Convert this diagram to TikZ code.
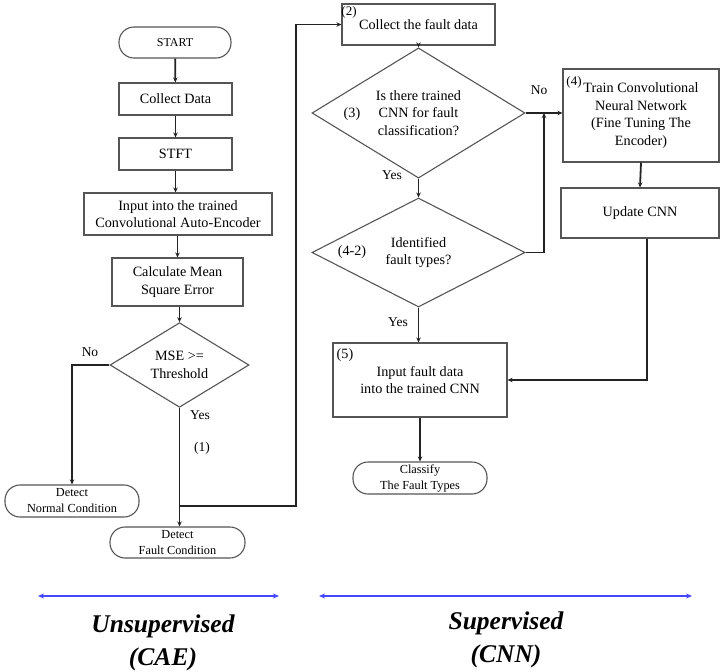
\documentclass[tikz,border=0pt]{standalone}
\usepackage{fontspec}
\setmainfont{Liberation Serif}
\usetikzlibrary{shapes.geometric,arrows.meta,calc}
\definecolor{boxgray}{RGB}{85,85,85}
\definecolor{linegray}{RGB}{35,35,35}
\definecolor{arrblue}{RGB}{70,70,250}
\newcommand\fsmain{\fontsize{14.2}{17.5}\selectfont}
\newcommand\fssmall{\fontsize{12.3}{16}\selectfont}
\newcommand\fslab{\fontsize{13.5}{16}\selectfont}
\newcommand\fsbig{\fontsize{25.5}{33}\selectfont\bfseries\itshape}
\begin{document}
\begin{tikzpicture}[x=1pt,y=-1pt,
  box/.style={draw=boxgray, line width=1.1pt, rectangle, inner sep=0pt, align=center, font=\fsmain},
  term/.style={draw=boxgray, line width=1.1pt, rectangle, rounded corners=15pt, inner sep=0pt, align=center, font=\fssmall},
  dec/.style={draw=boxgray, line width=1.1pt, diamond, inner sep=0pt, align=center, font=\fsmain},
  lab/.style={inner sep=0pt, font=\fslab},
  arr/.style={draw=linegray, line width=1.8pt, -{Stealth[length=5pt,width=4.5pt]}},
  barr/.style={draw=arrblue, line width=1.6pt, {Stealth[length=6pt,width=5pt]}-{Stealth[length=6pt,width=5pt]}},
  big/.style={inner sep=0pt, align=center, font=\fsbig}
]
\useasboundingbox (0,0) rectangle (721,672);

% left column
\node[term, minimum width=112pt, minimum height=31pt, font=\fontsize{12}{14}\selectfont] (start) at (175,42.5) {START};
\node[box, minimum width=113pt, minimum height=32pt] (cd) at (175.5,99) {Collect Data};
\node[box, minimum width=113pt, minimum height=32pt] (stft) at (175.5,154) {STFT};
\node[box, minimum width=188pt, minimum height=42pt] (cae) at (178,214) {Input into the trained\\Convolutional Auto-Encoder};
\node[box, minimum width=131pt, minimum height=48pt] (mse) at (177.5,282) {Calculate Mean\\Square Error};
\node[dec, minimum width=139pt, minimum height=72pt] (dmse) at (179.5,365) {MSE >=\\Threshold};
\node[term, minimum width=134pt, minimum height=32pt] (normal) at (72,501) {Detect\\Normal Condition};
\node[term, minimum width=135pt, minimum height=31pt] (fault) at (177.5,542.5) {Detect\\Fault Condition};

% right part
\node[box, minimum width=153pt, minimum height=41pt] (cfd) at (418.5,24.5) {Collect the fault data};
\node[lab, font=\fontsize{13}{14}\selectfont] (l2) at (349,12) {(2)};
\node[dec, minimum width=213pt, minimum height=88pt] (d3) at (418.5,113) {Is there trained\\CNN for fault\\classification?};
\node[lab, font=\fsmain] (l3) at (352,114) {(3)};
\node[box, minimum width=156pt, minimum height=93pt] (train) at (641,115.5) {Train Convolutional\\Neural Network\\(Fine Tuning The\\Encoder)};
\node[lab, font=\fontsize{13}{14}\selectfont] (l4) at (574,82) {(4)};
\node[box, minimum width=158pt, minimum height=50pt] (upd) at (640,213) {Update CNN};
\node[dec, minimum width=213pt, minimum height=109pt] (d42) at (418.5,252.5) {Identified\\fault types?};
\node[lab, font=\fsmain] (l42) at (352,252) {(4-2)};
\node[box, minimum width=174pt, minimum height=74pt] (in5) at (420,380) {Input fault data\\into the trained CNN};
\node[lab, font=\fsmain] (l5) at (345,355) {(5)};
\node[term, minimum width=134pt, minimum height=32pt] (cls) at (420,478) {Classify\\The Fault Types};

% labels
\node[lab] (no1) at (90,352) {No};
\node[lab] (yes1) at (200,415) {Yes};
\node[lab] (one) at (202,448) {(1)};
\node[lab] (no2) at (539,90) {No};
\node[lab] (yes2) at (392,175) {Yes};
\node[lab] (yes3) at (398,322) {Yes};

% left connectors
\draw[arr] (start) -- (cd);
\draw[arr] (cd) -- (stft);
\draw[arr] (stft.south) -- (stft.south |- cae.north);
\draw[arr] (cae.south -| mse.north) -- (mse.north);
\draw[arr] (mse.south -| dmse.north) -- (dmse.north);
\draw[arr] (dmse.west) -| (normal.north);
\draw[arr] (dmse.south) -- (dmse.south |- fault.north);
\coordinate (j1) at ($(dmse.south)+(0,98)$);
\draw[arr] (j1) -- ++(116.5,0) |- (cfd.west);

% right connectors
\draw[arr] (cfd.south) -- (d3.north);
\draw[arr] (d3.south) -- (d42.north);
\draw[arr] (d3.east) -- (d3.east -| train.west);
\coordinate (m) at ($(d3.east)!0.5!(train.west |- d3.east)$);
\draw[arr] (d42.east) -| (m);
\draw[arr] (train.south) -- (upd.north);
\draw[arr] ([xshift=7pt]upd.south) |- (in5.east);
\draw[arr] (d42.south) -- (d42.south |- in5.north);
\draw[arr] (in5.south) -- (in5.south |- cls.north);

% bottom
\coordinate (a1) at (38,596);
\coordinate (a2) at (279,596);
\coordinate (a3) at (319,596);
\coordinate (a4) at (692,596);
\draw[barr] (a1) -- (a2);
\draw[barr] (a3) -- (a4);
\node[big] (uns) at (163,643) {Unsupervised\\(CAE)};
\node[big] (sup) at (506,640) {Supervised\\(CNN)};
\end{tikzpicture}
\end{document}
